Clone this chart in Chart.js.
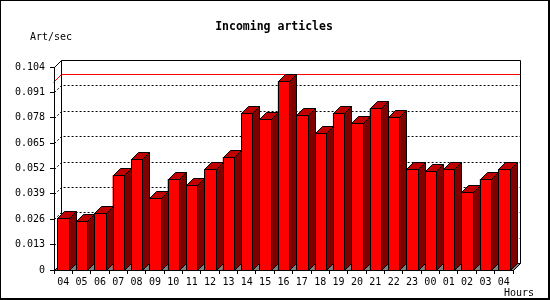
<!DOCTYPE html>
<html>
<head>
<meta charset="utf-8">
<title>Incoming articles</title>
<script src="https://cdn.jsdelivr.net/npm/chart.js@4.4.1/dist/chart.umd.min.js"></script>
<style>
  html, body { margin: 0; padding: 0; background: #fff; }
  canvas { display: block; }
</style>
</head>
<body>
<canvas id="chart" width="550" height="300"></canvas>
<script>
// Ore sull'asse x e articoli al secondo
const hours = ["04", "05", "06", "07", "08", "09", "10", "11", "12", "13", "14", "15", "16",
               "17", "18", "19", "20", "21", "22", "23", "00", "01", "02", "03", "04"];
const articles = [0.0265, 0.0249, 0.0290, 0.0485, 0.0569, 0.0367, 0.0466, 0.0434, 0.0517,
                  0.0577, 0.0804, 0.0772, 0.0968, 0.0792, 0.0700, 0.0804, 0.0753, 0.0828,
                  0.0782, 0.0517, 0.0506, 0.0517, 0.0398, 0.0466, 0.0517];
const yTicks = [0, 0.013, 0.026, 0.039, 0.052, 0.065, 0.078, 0.091, 0.104];
const yTickLabels = ["0", "0.013", "0.026", "0.039", "0.052", "0.065", "0.078", "0.091", "0.104"];

const D = 7; // profondità dell'effetto 3D
const MONO = "'DejaVu Sans Mono', 'Liberation Mono', monospace";

Chart.defaults.font.family = MONO;
Chart.defaults.font.size = 10;
Chart.defaults.color = "#000";

// Parete di fondo, pavimento, griglia e linea del massimo
const frame3d = {
  id: "frame3d",
  beforeDraw(chart) {
    const ctx = chart.ctx;
    const a = chart.chartArea;
    const ys = chart.scales.y;
    const L = a.left + 0.5, R = a.right + 0.5, T = a.top + 0.5, B = a.bottom + 0.5;
    ctx.save();
    ctx.fillStyle = "#fff";
    ctx.fillRect(0, 0, chart.width, chart.height);

    // cornice esterna
    ctx.fillStyle = "#000";
    ctx.fillRect(0, 0, chart.width, 1);
    ctx.fillRect(0, 0, 1, chart.height);
    ctx.fillRect(chart.width - 2, 0, 2, chart.height);
    ctx.fillRect(0, chart.height - 2, chart.width, 2);

    // pavimento grigio
    ctx.fillStyle = "#808080";
    ctx.beginPath();
    ctx.moveTo(L, B);
    ctx.lineTo(R, B);
    ctx.lineTo(R + D, B - D);
    ctx.lineTo(L + D, B - D);
    ctx.closePath();
    ctx.fill();

    // griglia tratteggiata
    ctx.strokeStyle = "#000";
    ctx.lineWidth = 1;
    ctx.setLineDash([2, 2]);
    yTicks.forEach((v, i) => {
      if (i === 0 || i === yTicks.length - 1) return;
      const py = Math.round(ys.getPixelForValue(v)) + 0.5;
      ctx.beginPath();
      ctx.moveTo(L, py);
      ctx.lineTo(L + D, py - D);
      ctx.lineTo(R + D, py - D);
      ctx.stroke();
    });
    ctx.setLineDash([]);

    // linea rossa del valore massimo
    const my = Math.round(ys.getPixelForValue(Math.max(...articles))) + 0.5;
    ctx.strokeStyle = "#ff0000";
    ctx.beginPath();
    ctx.moveTo(L - 1, my + 1);
    ctx.lineTo(L + D, my - D);
    ctx.lineTo(R + D, my - D);
    ctx.stroke();

    // bordi della parete
    ctx.strokeStyle = "#000";
    ctx.beginPath();
    ctx.moveTo(L, T);
    ctx.lineTo(L + D, T - D);
    ctx.lineTo(R + D, T - D);
    ctx.lineTo(R + D, B - D);
    ctx.lineTo(R, B);
    ctx.moveTo(L + D, T - D);
    ctx.lineTo(L + D, B - D);
    ctx.lineTo(R + D, B - D);
    ctx.moveTo(L, B);
    ctx.lineTo(L + D, B - D);
    ctx.stroke();
    ctx.restore();
  },

  // facce laterali e superiori delle barre
  afterDatasetsDraw(chart) {
    const ctx = chart.ctx;
    const meta = chart.getDatasetMeta(0);
    ctx.save();
    ctx.lineWidth = 1;
    ctx.strokeStyle = "#000";
    meta.data.forEach(bar => {
      const p = bar.getProps(["x", "y", "base", "width"], true);
      const l = Math.round(p.x - p.width / 2) + 0.5;
      const r = Math.round(p.x + p.width / 2) + 0.5;
      const t = Math.round(p.y) + 0.5;
      const b = Math.round(p.base) + 0.5;

      ctx.fillStyle = "#800000";
      ctx.beginPath();
      ctx.moveTo(r, t);
      ctx.lineTo(r + D, t - D);
      ctx.lineTo(r + D, b - D);
      ctx.lineTo(r, b);
      ctx.closePath();
      ctx.fill();
      ctx.stroke();

      ctx.fillStyle = "#c00000";
      ctx.beginPath();
      ctx.moveTo(l, t);
      ctx.lineTo(l + D, t - D);
      ctx.lineTo(r + D, t - D);
      ctx.lineTo(r, t);
      ctx.closePath();
      ctx.fill();
      ctx.stroke();

      ctx.fillStyle = "#ff0000";
      ctx.fillRect(l, t, r - l, b - t);
      ctx.strokeRect(l, t, r - l, b - t);
    });
    ctx.restore();
  },

  // titolo ed etichette degli assi
  afterDraw(chart) {
    const ctx = chart.ctx;
    ctx.save();
    ctx.fillStyle = "#000";
    ctx.textBaseline = "alphabetic";
    ctx.font = "bold 11.5px " + MONO;
    ctx.textAlign = "center";
    ctx.fillText("Incoming articles", 274, 30);
    ctx.font = "10px " + MONO;
    ctx.textAlign = "left";
    ctx.fillText("Art/sec", 30, 40);
    ctx.fillText("Hours", 504, 296);
    ctx.restore();
  }
};

new Chart(document.getElementById("chart"), {
  type: "bar",
  data: {
    labels: hours,
    datasets: [{
      data: articles,
      backgroundColor: "#ff0000",
      borderWidth: 0,
      categoryPercentage: 1,
      barPercentage: 0.62
    }]
  },
  options: {
    responsive: false,
    maintainAspectRatio: false,
    animation: false,
    layout: { padding: { top: 67, right: 37, left: 0, bottom: 0 } },
    plugins: {
      legend: { display: false },
      title: { display: false },
      tooltip: { enabled: false }
    },
    scales: {
      x: {
        grid: { display: true, drawOnChartArea: false, tickLength: 4, color: "#000", offset: true },
        border: { display: true, color: "#000" },
        ticks: { autoSkip: false, maxRotation: 0, padding: 2 },
        afterFit: s => { s.height = 30; }
      },
      y: {
        min: 0,
        max: 0.104,
        grid: { display: true, drawOnChartArea: false, tickLength: 4, color: "#000" },
        border: { display: true, color: "#000" },
        ticks: { padding: 5, callback: (v, i) => yTickLabels[i] },
        afterBuildTicks: s => { s.ticks = yTicks.map(v => ({ value: v })); },
        afterFit: s => { s.width = 54; }
      }
    }
  },
  plugins: [frame3d]
});
</script>
</body>
</html>
